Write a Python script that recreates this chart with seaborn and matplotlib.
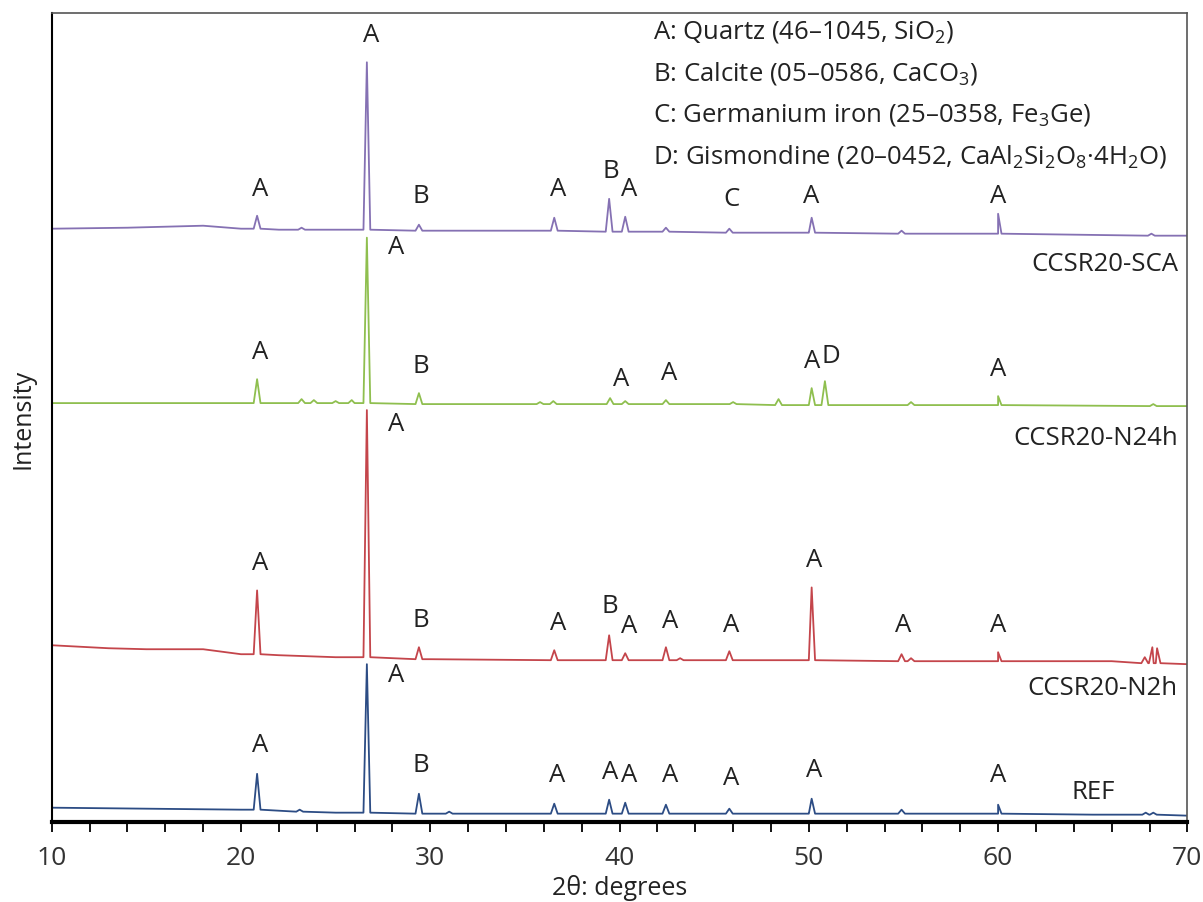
import numpy as np
import pandas as pd
import matplotlib
matplotlib.use("Agg")
import matplotlib.pyplot as plt
import seaborn as sns

# ---- data (2theta in degrees, intensity in arbitrary offset units) ----
samples = ["REF", "CCSR20-N2h", "CCSR20-N24h", "CCSR20-SCA"]
colors = ["#2c4c84", "#c4454b", "#8fbf4f", "#8571b3"]

# background anchors
ref_bg_x = [10, 15, 20, 25, 30, 40, 50, 60, 65, 70]
ref_bg_y = [14, 13, 12, 9, 8, 8, 8, 8, 7, 6]
n2h_bg_x = [10, 13, 15, 18, 20, 22, 25, 30, 40, 50, 60, 66, 70]
n2h_bg_y = [177, 174, 173, 173, 168, 167, 165, 163, 162, 162, 161, 161, 158]
n24h_bg_x = [10, 20, 26, 30, 40, 50, 60, 70]
n24h_bg_y = [420, 420, 420, 419, 419, 418, 418, 417]
sca_bg_x = [10, 14, 18, 20, 22, 26, 30, 40, 50, 60, 70]
sca_bg_y = [595, 596, 598, 595, 594, 594, 593, 592, 591, 590, 588]

# peaks: position, top, foot level
ref_pos = [20.85, 23.1, 26.65, 29.4, 31.0, 36.55, 39.45, 40.3, 42.45, 45.8, 50.15, 54.9, 60.0, 67.8, 68.2]
ref_top = [48, 12, 158, 28, 10, 18, 22, 19, 17, 13, 23, 12, 17, 9, 9]
ref_foot = [12, 10, 9, 8, 8, 8, 8, 8, 8, 8, 8, 8, 8, 7, 7]

n2h_pos = [20.85, 26.65, 29.4, 36.55, 39.45, 40.3, 42.45, 43.2, 45.8, 50.15, 54.9, 55.4, 60.0, 67.75, 68.15, 68.4]
n2h_top = [232, 413, 175, 172, 187, 169, 175, 164, 171, 235, 168, 164, 170, 165, 175, 174]
n2h_foot = [168, 165, 163, 162, 162, 162, 162, 162, 162, 162, 161, 161, 161, 159, 159, 159]

n24h_pos = [20.85, 23.2, 23.85, 25.0, 25.85, 26.65, 29.4, 35.8, 36.5, 39.5, 40.3, 42.45, 46.0, 48.4,
            50.15, 50.85, 55.4, 60.0, 68.2]
n24h_top = [444, 424, 423, 422, 423, 586, 430, 421, 422, 425, 422, 423, 421, 424, 435, 442, 421, 427, 419]
n24h_foot = [420, 420, 420, 420, 420, 420, 419, 419, 419, 419, 419, 419, 419, 418, 418, 418, 418, 418, 417]

sca_pos = [20.85, 23.2, 26.65, 29.4, 36.55, 39.45, 40.3, 42.45, 45.8, 50.15, 54.9, 60.0, 68.1]
sca_top = [608, 596, 762, 599, 606, 625, 607, 596, 595, 606, 593, 610, 590]
sca_foot = [595, 594, 594, 593, 593, 592, 592, 592, 591, 591, 590, 590, 588]

# peak labels: phase letter, 2theta, height
ref_lab = ["A", "A", "B", "A", "A", "A", "A", "A", "A", "A"]
ref_lab_x = [21.0, 28.2, 29.5, 36.7, 39.5, 40.5, 42.65, 45.9, 50.3, 60.0]
ref_lab_y = [77, 148, 57, 47, 50, 47, 47, 44, 52, 47]
n2h_lab = ["A", "A", "B", "A", "B", "A", "A", "A", "A", "A", "A"]
n2h_lab_x = [21.0, 28.2, 29.5, 36.75, 39.5, 40.5, 42.65, 45.9, 50.3, 55.0, 60.0]
n2h_lab_y = [260, 400, 203, 200, 217, 197, 202, 198, 263, 198, 198]
n24h_lab = ["A", "A", "B", "A", "A", "A", "D", "A"]
n24h_lab_x = [21.0, 28.2, 29.5, 40.1, 42.6, 50.2, 51.15, 60.0]
n24h_lab_y = [472, 577, 458, 445, 451, 463, 468, 455]
sca_lab = ["A", "A", "B", "A", "B", "A", "C", "A", "A"]
sca_lab_x = [21.0, 26.9, 29.5, 36.75, 39.55, 40.5, 45.9, 50.1, 60.0]
sca_lab_y = [635, 790, 628, 635, 653, 635, 625, 628, 628]

sample_lab_x = [65.0, 69.5, 69.5, 69.5]
sample_lab_y = [30, 135, 385, 560]

legend_lines = [
    r"A: Quartz (46–1045, SiO$_2$)",
    r"B: Calcite (05–0586, CaCO$_3$)",
    r"C: Germanium iron (25–0358, Fe$_3$Ge)",
    r"D: Gismondine (20–0452, CaAl$_2$Si$_2$O$_8$·4H$_2$O)",
]
legend_y = [793, 752, 710, 668]

HALF_WIDTH = 0.18


def build_trace(name, bg_x, bg_y, pos, top, foot):
    xs = list(bg_x)
    ys = list(bg_y)
    for p, t, f in zip(pos, top, foot):
        xs += [p - HALF_WIDTH, p, p + HALF_WIDTH]
        ys += [f, t, f]
    df = pd.DataFrame({"2theta": xs, "intensity": ys})
    df = df.sort_values("2theta", kind="mergesort")
    df["sample"] = name
    return df


df = pd.concat([
    build_trace("REF", ref_bg_x, ref_bg_y, ref_pos, ref_top, ref_foot),
    build_trace("CCSR20-N2h", n2h_bg_x, n2h_bg_y, n2h_pos, n2h_top, n2h_foot),
    build_trace("CCSR20-N24h", n24h_bg_x, n24h_bg_y, n24h_pos, n24h_top, n24h_foot),
    build_trace("CCSR20-SCA", sca_bg_x, sca_bg_y, sca_pos, sca_top, sca_foot),
], ignore_index=True)

sns.set_style("white")
plt.rcParams["font.family"] = ["Open Sans", "DejaVu Sans"]
plt.rcParams["mathtext.fontset"] = "custom"
plt.rcParams["mathtext.rm"] = "Open Sans"
plt.rcParams["mathtext.it"] = "Open Sans"

fig = plt.figure(figsize=(12.03, 9.03), dpi=100)
ax = fig.add_axes([0.043, 0.089, 0.944, 0.895])

sns.lineplot(data=df, x="2theta", y="intensity", hue="sample", hue_order=samples,
             palette=dict(zip(samples, colors)), sort=False, estimator=None,
             linewidth=1.3, legend=False, ax=ax)

txt = "#222222"
fs = 18.5
for labs, lx, ly in [(ref_lab, ref_lab_x, ref_lab_y), (n2h_lab, n2h_lab_x, n2h_lab_y),
                     (n24h_lab, n24h_lab_x, n24h_lab_y), (sca_lab, sca_lab_x, sca_lab_y)]:
    for s, x, y in zip(labs, lx, ly):
        ax.text(x, y, s, ha="center", va="center", fontsize=fs, color=txt)

# sample names
ax.text(sample_lab_x[0], sample_lab_y[0], samples[0], ha="center", va="center", fontsize=fs, color=txt)
for name, x, y in zip(samples[1:], sample_lab_x[1:], sample_lab_y[1:]):
    ax.text(x, y, name, ha="right", va="center", fontsize=fs, color=txt)

for line, y in zip(legend_lines, legend_y):
    ax.text(41.75, y, line, ha="left", va="center", fontsize=fs, color=txt)

ax.set_xlim(10, 70)
ax.set_ylim(0, 811)
ax.set_yticks([])
ax.set_xticks(np.arange(10, 71, 10))
ax.set_xticks(np.arange(10, 71, 2), minor=True)
ax.tick_params(axis="x", which="both", direction="out", length=7, width=1.3, color="black",
               labelsize=19, labelcolor="#333333", pad=10, bottom=True)
ax.set_xlabel("2θ: degrees", fontsize=18, color=txt, labelpad=3)
ax.set_ylabel("Intensity", fontsize=18, color=txt, labelpad=12)

ax.spines["bottom"].set_linewidth(3)
ax.spines["bottom"].set_color("black")
ax.spines["left"].set_linewidth(1.5)
ax.spines["left"].set_color("black")
for s in ["top", "right"]:
    ax.spines[s].set_linewidth(1.2)
    ax.spines[s].set_color("#555555")

fig.savefig("out.png", dpi=100)
